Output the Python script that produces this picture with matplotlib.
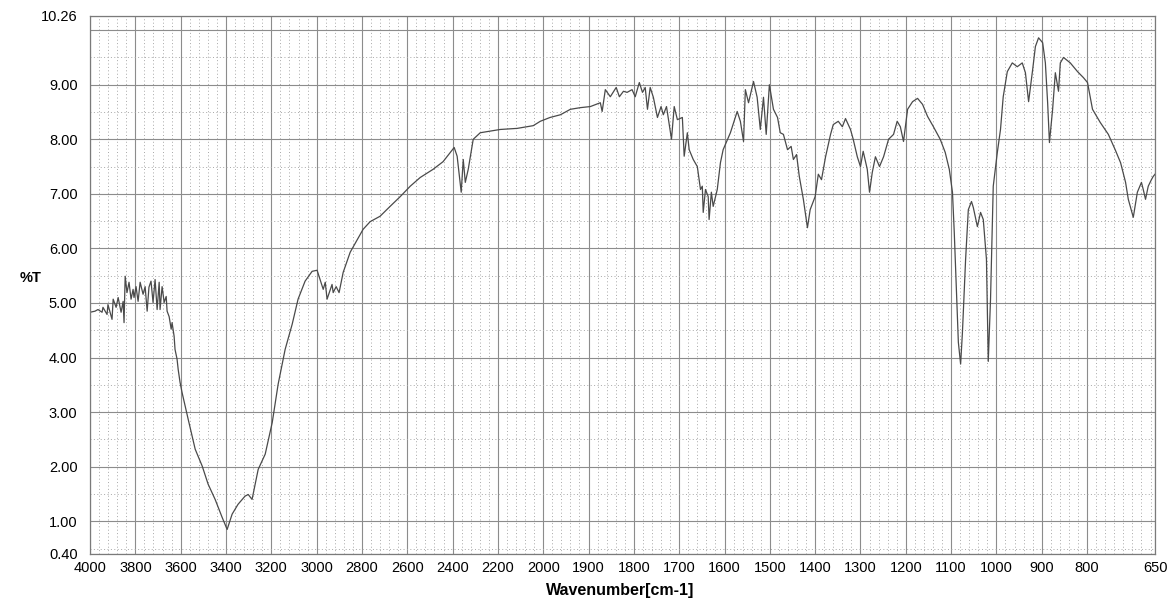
import numpy as np
import matplotlib
matplotlib.use("Agg")
import matplotlib.pyplot as plt
from matplotlib.ticker import FixedLocator, FixedFormatter

plt.rcParams['font.family'] = ['Liberation Sans', 'DejaVu Sans']

# spectrum (wavenumber cm-1, %T)
wavenumber = [
    4000, 3978, 3965, 3947, 3943, 3925, 3921, 3903, 3898, 3885, 3876, 3863,
    3854, 3850, 3845, 3837, 3828, 3819, 3810, 3806, 3797, 3788, 3779, 3766,
    3757, 3748, 3740, 3731, 3722, 3713, 3704, 3695, 3691, 3682, 3673, 3664,
    3660, 3651, 3642, 3638, 3629, 3625, 3616, 3611, 3603, 3594, 3567, 3536,
    3505, 3479, 3448, 3417, 3395, 3373, 3347, 3316, 3302, 3285, 3258, 3227,
    3196, 3170, 3139, 3108, 3082, 3051, 3020, 2998, 2985, 2971, 2962, 2954,
    2932, 2927, 2914, 2901, 2883, 2852, 2821, 2795, 2764, 2720, 2676, 2631,
    2587, 2543, 2486, 2442, 2393, 2380, 2362, 2353, 2344, 2331, 2309, 2278,
    2190, 2115, 2044, 2013,
    1985, 1962, 1940, 1918, 1896, 1874, 1870, 1863, 1852, 1839, 1832, 1823,
    1815, 1804, 1797, 1788, 1781, 1775, 1770, 1764, 1757, 1748, 1740, 1735,
    1728, 1717, 1711, 1704, 1693, 1689, 1682, 1678, 1669, 1660, 1653, 1649,
    1647, 1642, 1636, 1634, 1629, 1625, 1616, 1609, 1603, 1587, 1572, 1565,
    1558, 1554, 1547, 1536, 1528, 1521, 1514, 1508, 1501, 1492, 1483, 1477,
    1470, 1461, 1453, 1448, 1441, 1435, 1426, 1417, 1411, 1400, 1393, 1386,
    1377, 1366, 1360, 1349, 1340, 1333, 1322, 1316, 1307, 1300, 1294, 1285,
    1280, 1274, 1267, 1258, 1249, 1238, 1227, 1219, 1212, 1205, 1196, 1185,
    1174, 1163, 1152, 1139, 1124, 1113, 1104, 1097, 1093, 1088, 1084, 1079,
    1075, 1068, 1062, 1055, 1051, 1042, 1035, 1029, 1022, 1018, 1013, 1007,
    998, 991, 985, 976, 965, 954, 943, 936, 929, 920, 914, 907,
    898, 892, 887, 883, 876, 870, 863, 859, 852, 837, 821, 808,
    799, 788, 771, 753, 738, 726, 715, 709, 698, 689, 680, 676,
    671, 665, 658, 654, 650,
]
transmittance = [
    4.83, 4.85, 4.88, 4.83, 4.92, 4.79, 4.97, 4.70, 5.07, 4.92, 5.10, 4.83,
    5.03, 4.64, 5.49, 5.19, 5.38, 5.07, 5.25, 5.10, 5.30, 5.03, 5.38, 5.16,
    5.30, 4.85, 5.29, 5.40, 5.01, 5.43, 4.88, 5.38, 4.88, 5.30, 5.01, 5.12,
    4.85, 4.75, 4.52, 4.64, 4.39, 4.15, 3.97, 3.78, 3.55, 3.36, 2.87, 2.32,
    2.01, 1.68, 1.40, 1.07, 0.85, 1.13, 1.31, 1.46, 1.49, 1.40, 1.95, 2.23,
    2.81, 3.51, 4.15, 4.61, 5.07, 5.40, 5.58, 5.60, 5.43, 5.25, 5.38, 5.07,
    5.34, 5.19, 5.30, 5.19, 5.56, 5.93, 6.16, 6.35, 6.49, 6.59, 6.77, 6.95,
    7.14, 7.30, 7.45, 7.59, 7.85, 7.69, 7.03, 7.63, 7.21, 7.45, 8.00, 8.12,
    8.18, 8.20, 8.25, 8.33,
    8.40, 8.45, 8.55, 8.58, 8.60, 8.67, 8.51, 8.91, 8.78, 8.95, 8.78, 8.88,
    8.86, 8.91, 8.78, 9.04, 8.86, 8.95, 8.55, 8.95, 8.77, 8.40, 8.60, 8.45,
    8.60, 8.00, 8.60, 8.36, 8.40, 7.69, 8.12, 7.81, 7.63, 7.50, 7.08, 7.14,
    6.66, 7.08, 6.95, 6.53, 7.03, 6.77, 7.08, 7.57, 7.81, 8.12, 8.51, 8.33,
    7.96, 8.91, 8.67, 9.06, 8.77, 8.18, 8.77, 8.09, 9.00, 8.55, 8.40, 8.12,
    8.09, 7.81, 7.87, 7.63, 7.72, 7.32, 6.90, 6.38, 6.71, 6.95, 7.36, 7.26,
    7.68, 8.09, 8.27, 8.33, 8.23, 8.38, 8.18, 8.00, 7.68, 7.50, 7.78, 7.45,
    7.03, 7.39, 7.68, 7.50, 7.68, 8.00, 8.09, 8.33, 8.23, 7.96, 8.55, 8.69,
    8.75, 8.64, 8.42, 8.23, 8.00, 7.76, 7.45, 7.03, 6.29, 5.19, 4.28, 3.88,
    4.46, 5.80, 6.71, 6.86, 6.75, 6.40, 6.66, 6.53, 5.80, 3.93, 5.07, 7.14,
    7.76, 8.18, 8.78, 9.24, 9.40, 9.33, 9.40, 9.22, 8.69, 9.28, 9.70, 9.86,
    9.77, 9.40, 8.67, 7.94, 8.55, 9.22, 8.88, 9.40, 9.50, 9.40, 9.24, 9.13,
    9.04, 8.55, 8.31, 8.09, 7.81, 7.57, 7.21, 6.90, 6.57, 7.03, 7.21, 7.08,
    6.90, 7.14, 7.26, 7.32, 7.36,
]

x_ticks = [4000, 3800, 3600, 3400, 3200, 3000, 2800, 2600, 2400, 2200, 2000,
           1900, 1800, 1700, 1600, 1500, 1400, 1300, 1200, 1100, 1000, 900, 800, 650]
y_ticks = [0.40, 1.00, 2.00, 3.00, 4.00, 5.00, 6.00, 7.00, 8.00, 9.00, 10.00, 10.26]
y_labels = ['0.40', '1.00', '2.00', '3.00', '4.00', '5.00', '6.00', '7.00',
            '8.00', '9.00', '', '10.26']


# instrument axis: 200 cm-1 per division above 2000, 100 below
def fwd(w):
    w = np.asarray(w, dtype=float)
    return np.where(w >= 2000, (w - 2000) / 200.0, (w - 2000) / 100.0)


def inv(u):
    u = np.asarray(u, dtype=float)
    return np.where(u >= 0, 2000 + 200.0 * u, 2000 + 100.0 * u)


fig = plt.figure(figsize=(11.68, 6.03), dpi=100)
ax = fig.add_axes([0.0771, 0.0813, 0.9118, 0.8922])
ax.set_xscale('function', functions=(fwd, inv))
ax.plot(wavenumber, transmittance, color='#4a4a4a', lw=0.9)
ax.set_xlim(4000, 650)
ax.set_ylim(0.40, 10.26)

ax.xaxis.set_major_locator(FixedLocator(x_ticks))
ax.xaxis.set_major_formatter(FixedFormatter([str(t) for t in x_ticks]))
ax.xaxis.set_minor_locator(FixedLocator(
    list(np.arange(4000, 2000, -40)) + list(np.arange(2000, 649, -20))))
ax.yaxis.set_major_locator(FixedLocator(y_ticks))
ax.yaxis.set_major_formatter(FixedFormatter(y_labels))
ax.yaxis.set_minor_locator(FixedLocator(np.arange(0.5, 10.0, 1.0)))

ax.grid(which='major', color='#8c8c8c', lw=0.8, ls='-')
ax.grid(which='minor', color='#a8a8a8', lw=0.7, ls=(0, (1, 2.5)))
ax.tick_params(which='both', length=0)
ax.tick_params(axis='x', pad=5, labelsize=10.5)
ax.tick_params(axis='y', pad=9, labelsize=10.5)
for s in ax.spines.values():
    s.set_color('#7a7a7a')
    s.set_linewidth(0.9)

fig.text(0.026, 0.539, '%T', fontsize=10.5, fontweight='bold', ha='center', va='center')
fig.text(0.531, 0.021, 'Wavenumber[cm-1]', fontsize=11.5, fontweight='bold',
         ha='center', va='center')

fig.savefig('out.png', dpi=100)
